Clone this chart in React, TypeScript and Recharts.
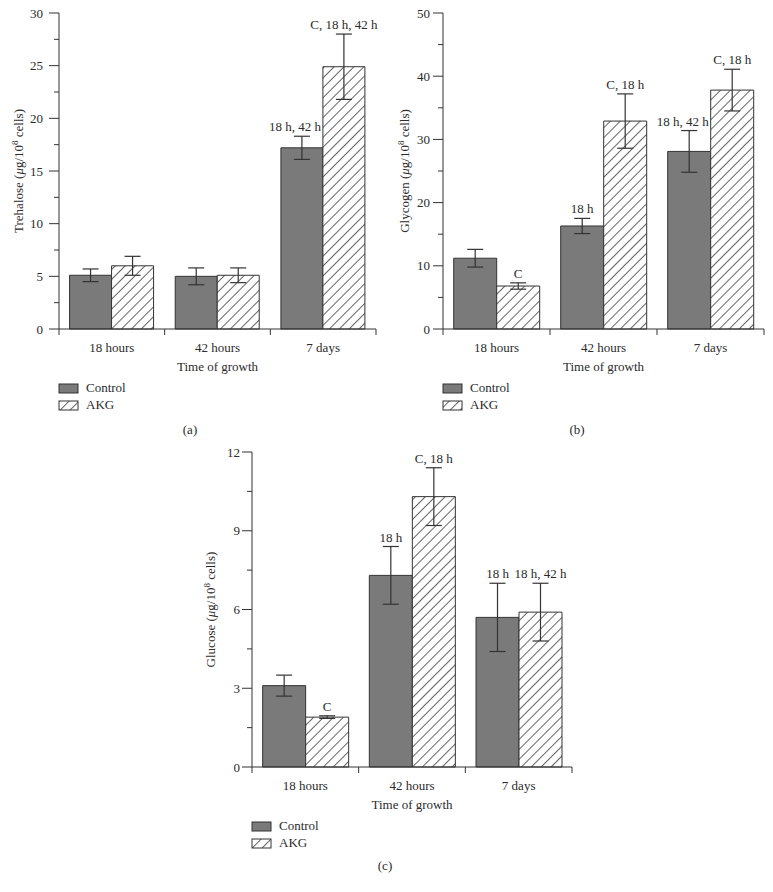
import React from 'react';
import { BarChart, Bar, XAxis, YAxis, ErrorBar, LabelList } from 'recharts';

const categories = ['18 hours', '42 hours', '7 days'];

// (a) Trehalose
const trehaloseControl = [5.1, 5.0, 17.2];
const trehaloseControlErr = [0.6, 0.8, 1.1];
const trehaloseAkg = [6.0, 5.1, 24.9];
const trehaloseAkgErr = [0.9, 0.7, 3.1];
const trehaloseControlNotes = ['', '', '18 h, 42 h'];
const trehaloseAkgNotes = ['', '', 'C, 18 h, 42 h'];
const trehaloseTicks = [0, 2.5, 5, 7.5, 10, 12.5, 15, 17.5, 20, 22.5, 25, 27.5, 30];

// (b) Glycogen
const glycogenControl = [11.2, 16.3, 28.1];
const glycogenControlErr = [1.4, 1.2, 3.3];
const glycogenAkg = [6.8, 32.9, 37.8];
const glycogenAkgErr = [0.5, 4.3, 3.3];
const glycogenControlNotes = ['', '18 h', '18 h, 42 h'];
const glycogenAkgNotes = ['C', 'C, 18 h', 'C, 18 h'];
const glycogenTicks = [0, 5, 10, 15, 20, 25, 30, 35, 40, 45, 50];

// (c) Glucose
const glucoseControl = [3.1, 7.3, 5.7];
const glucoseControlErr = [0.4, 1.1, 1.3];
const glucoseAkg = [1.9, 10.3, 5.9];
const glucoseAkgErr = [0.05, 1.1, 1.1];
const glucoseControlNotes = ['', '18 h', '18 h'];
const glucoseAkgNotes = ['C', 'C, 18 h', '18 h, 42 h'];
const glucoseTicks = [0, 1.5, 3, 4.5, 6, 7.5, 9, 10.5, 12];

const FONT = "'Liberation Serif', 'Times New Roman', serif";
const INK = '#2b2b2b';
const AXIS = '#333333';
const CONTROL_FILL = '#7a7a7a';
const HATCH = '#555555';
const CHART_H = 380;

const HatchPattern = ({ id }: { id: string }) => (
  <pattern id={id} patternUnits="userSpaceOnUse" width={7} height={7} patternTransform="rotate(45)">
    <rect width={7} height={7} fill="#ffffff" />
    <line x1={3.5} y1={0} x2={3.5} y2={7} stroke={HATCH} strokeWidth={0.9} />
  </pattern>
);

const YTitle = ({ titleX, titleY, name }: { titleX: number; titleY: number; name: string }) => (
  <text
    transform={`translate(${titleX},${titleY}) rotate(-90)`}
    x={0}
    y={4.5}
    textAnchor="middle"
    fontFamily={FONT}
    fontSize={13}
    fill={INK}
  >
    {name} (<tspan fontStyle="italic">μ</tspan>g/10
    <tspan dy={-5} fontSize={9}>8</tspan>
    <tspan dy={5}> cells)</tspan>
  </text>
);

const XTitle = ({ titleX, titleY }: { titleX: number; titleY: number }) => (
  <text x={titleX} y={titleY} textAnchor="middle" fontFamily={FONT} fontSize={13} fill={INK}>
    Time of growth
  </text>
);

interface PanelProps {
  id: string;
  left: number;
  top: number;
  width: number;
  yAxisWidth: number;
  marginRight: number;
  plotTop: number;
  plotBottom: number;
  yMax: number;
  ticks: number[];
  major: number;
  labelGap: number;
  yName: string;
  yTitleX: number;
  control: number[];
  controlErr: number[];
  akg: number[];
  akgErr: number[];
  controlNotes: string[];
  akgNotes: string[];
  letter: string;
  letterX: number;
  letterY: number;
}

const Panel: React.FC<PanelProps> = (p) => {
  const rows = categories.map((cat, i) => ({
    cat,
    ctrl: p.control[i],
    ctrlErr: p.controlErr[i],
    akg: p.akg[i],
    akgErr: p.akgErr[i],
    ctrlNote: p.controlNotes[i],
    akgNote: p.akgNotes[i],
  }));

  const axisX = p.yAxisWidth;
  const plotW = p.width - p.yAxisWidth - p.marginRight;
  const band = plotW / categories.length;
  const hatchId = `hatch-${p.id}`;

  const renderYTick = (props: any) => {
    const { y, payload } = props;
    const v = payload.value;
    const isMajor = Math.abs(v / p.major - Math.round(v / p.major)) < 1e-6;
    return (
      <g>
        <line x1={axisX - (isMajor ? 10 : 5)} x2={axisX} y1={y} y2={y} stroke={AXIS} strokeWidth={1} />
        {isMajor && (
          <text x={axisX - p.labelGap} y={y + 4.5} textAnchor="end" fontFamily={FONT} fontSize={13} fill={INK}>
            {v}
          </text>
        )}
      </g>
    );
  };

  const renderXTick = (props: any) => {
    const { x, payload } = props;
    const isLast = payload.value === categories[categories.length - 1];
    return (
      <g>
        <line x1={x - band / 2} x2={x - band / 2} y1={p.plotBottom} y2={p.plotBottom + 6} stroke={AXIS} />
        {isLast && (
          <line x1={x + band / 2} x2={x + band / 2} y1={p.plotBottom} y2={p.plotBottom + 6} stroke={AXIS} />
        )}
        <text x={x} y={p.plotBottom + 22.5} textAnchor="middle" fontFamily={FONT} fontSize={13} fill={INK}>
          {payload.value}
        </text>
      </g>
    );
  };

  // long notes over the left (control) bar are pulled left so they clear the AKG error bar
  const renderNote = (vals: number[], errs: number[], pullLeft: boolean) => (props: any) => {
    const { x, y, width, height, value, index } = props;
    if (!value) return null;
    const ppu = Number(height) / vals[index];
    const top = Number(y) - errs[index] * ppu;
    const long = pullLeft && String(value).length > 6;
    return (
      <text
        x={long ? Number(x) + Number(width) - 2 : Number(x) + Number(width) / 2}
        y={top - 5}
        textAnchor={long ? 'end' : 'middle'}
        fontFamily={FONT}
        fontSize={13}
        fill={INK}
      >
        {value}
      </text>
    );
  };

  const legendY = p.plotBottom + 55;

  return (
    <div style={{ position: 'absolute', left: p.left, top: p.top, width: p.width, height: 445 }}>
      <BarChart
        width={p.width}
        height={CHART_H}
        data={rows}
        margin={{ top: p.plotTop, right: p.marginRight, left: 0, bottom: 0 }}
        barCategoryGap="10%"
        barGap={0}
      >
        <defs>
          <HatchPattern id={hatchId} />
        </defs>
        <XAxis
          dataKey="cat"
          height={CHART_H - p.plotBottom}
          interval={0}
          tickLine={false}
          axisLine={{ stroke: AXIS }}
          tick={renderXTick}
          label={<XTitle titleX={axisX + plotW / 2} titleY={p.plotBottom + 42} />}
        />
        <YAxis
          type="number"
          domain={[0, p.yMax]}
          ticks={p.ticks}
          interval={0}
          width={p.yAxisWidth}
          tickLine={false}
          axisLine={{ stroke: AXIS }}
          tick={renderYTick}
          label={<YTitle titleX={p.yTitleX} titleY={(p.plotTop + p.plotBottom) / 2} name={p.yName} />}
        />
        <Bar dataKey="ctrl" fill={CONTROL_FILL} stroke={AXIS} strokeWidth={1} isAnimationActive={false}>
          <ErrorBar dataKey="ctrlErr" width={8} stroke={AXIS} strokeWidth={1.2} isAnimationActive={false} />
          <LabelList dataKey="ctrlNote" content={renderNote(p.control, p.controlErr, true)} />
        </Bar>
        <Bar dataKey="akg" fill={`url(#${hatchId})`} stroke={AXIS} strokeWidth={1} isAnimationActive={false}>
          <ErrorBar dataKey="akgErr" width={8} stroke={AXIS} strokeWidth={1.2} isAnimationActive={false} />
          <LabelList dataKey="akgNote" content={renderNote(p.akg, p.akgErr, false)} />
        </Bar>
      </BarChart>

      <svg
        width={p.width}
        height={445}
        style={{ position: 'absolute', left: 0, top: 0, pointerEvents: 'none' }}
      >
        <defs>
          <HatchPattern id={`${hatchId}-legend`} />
        </defs>
        <rect x={axisX} y={legendY} width={19} height={9} fill={CONTROL_FILL} stroke={AXIS} />
        <text x={axisX + 27} y={legendY + 8} fontFamily={FONT} fontSize={13} fill={INK}>
          Control
        </text>
        <rect x={axisX} y={legendY + 17} width={19} height={9} fill={`url(#${hatchId}-legend)`} stroke={AXIS} />
        <text x={axisX + 27} y={legendY + 25} fontFamily={FONT} fontSize={13} fill={INK}>
          AKG
        </text>
        <text x={p.letterX} y={p.letterY} textAnchor="middle" fontFamily={FONT} fontSize={13} fill={INK}>
          {p.letter}
        </text>
      </svg>
    </div>
  );
};

export default function App() {
  return (
    <div
      style={{
        position: 'absolute',
        left: 0,
        top: 0,
        width: 773,
        height: 892,
        background: '#ffffff',
        overflow: 'hidden',
      }}
    >
      <Panel
        id="a"
        left={0}
        top={0}
        width={390}
        yAxisWidth={59}
        marginRight={14}
        plotTop={13}
        plotBottom={329}
        yMax={30}
        ticks={trehaloseTicks}
        major={5}
        labelGap={16}
        yName="Trehalose"
        yTitleX={18}
        control={trehaloseControl}
        controlErr={trehaloseControlErr}
        akg={trehaloseAkg}
        akgErr={trehaloseAkgErr}
        controlNotes={trehaloseControlNotes}
        akgNotes={trehaloseAkgNotes}
        letter="(a)"
        letterX={190}
        letterY={434}
      />
      <Panel
        id="b"
        left={390}
        top={0}
        width={383}
        yAxisWidth={53}
        marginRight={9}
        plotTop={13}
        plotBottom={329}
        yMax={50}
        ticks={glycogenTicks}
        major={10}
        labelGap={13}
        yName="Glycogen"
        yTitleX={14}
        control={glycogenControl}
        controlErr={glycogenControlErr}
        akg={glycogenAkg}
        akgErr={glycogenAkgErr}
        controlNotes={glycogenControlNotes}
        akgNotes={glycogenAkgNotes}
        letter="(b)"
        letterX={187}
        letterY={434}
      />
      <Panel
        id="c"
        left={190}
        top={440}
        width={400}
        yAxisWidth={62}
        marginRight={18}
        plotTop={12}
        plotBottom={327}
        yMax={12}
        ticks={glucoseTicks}
        major={3}
        labelGap={12}
        yName="Glucose"
        yTitleX={20}
        control={glucoseControl}
        controlErr={glucoseControlErr}
        akg={glucoseAkg}
        akgErr={glucoseAkgErr}
        controlNotes={glucoseControlNotes}
        akgNotes={glucoseAkgNotes}
        letter="(c)"
        letterX={195}
        letterY={430}
      />
    </div>
  );
}
